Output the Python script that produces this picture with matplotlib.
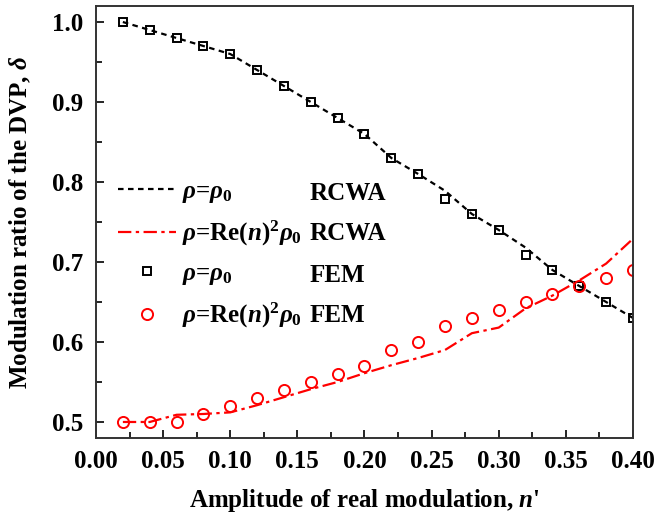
import numpy as np
import matplotlib
matplotlib.use('Agg')
import matplotlib.pyplot as plt
from matplotlib.ticker import MultipleLocator

plt.rcParams['font.family'] = 'Liberation Serif'
plt.rcParams['font.weight'] = 'bold'
plt.rcParams['axes.labelweight'] = 'bold'
plt.rcParams['mathtext.fontset'] = 'custom'
plt.rcParams['mathtext.rm'] = 'Liberation Serif:bold'
plt.rcParams['mathtext.it'] = 'Liberation Serif:italic:bold'
plt.rcParams['mathtext.bf'] = 'Liberation Serif:bold'

# amplitude of real modulation n'
n_amp = [0.02, 0.04, 0.06, 0.08, 0.10, 0.12, 0.14, 0.16, 0.18, 0.20,
         0.22, 0.24, 0.26, 0.28, 0.30, 0.32, 0.34, 0.36, 0.38, 0.40]

# rho = rho0
rcwa_rho0 = [1.00, 0.99, 0.98, 0.97, 0.96, 0.94, 0.92, 0.90, 0.88, 0.86,
             0.83, 0.81, 0.789, 0.76, 0.74, 0.718, 0.69, 0.67, 0.65, 0.63]
fem_rho0 = [1.00, 0.99, 0.98, 0.97, 0.96, 0.94, 0.92, 0.90, 0.88, 0.86,
            0.83, 0.81, 0.779, 0.76, 0.74, 0.709, 0.69, 0.67, 0.65, 0.63]

# rho = Re(n)^2 rho0
rcwa_ren = [0.50, 0.50, 0.509, 0.51, 0.512, 0.521, 0.531, 0.541, 0.55, 0.561,
            0.571, 0.58, 0.59, 0.611, 0.618, 0.642, 0.658, 0.677, 0.698, 0.729]
fem_ren = [0.50, 0.50, 0.50, 0.51, 0.52, 0.53, 0.54, 0.55, 0.56, 0.57,
           0.59, 0.60, 0.62, 0.63, 0.64, 0.65, 0.66, 0.67, 0.68, 0.69]

methods = ['RCWA', 'RCWA', 'FEM', 'FEM']

fig = plt.figure(figsize=(6.59, 5.14), dpi=100)
ax = fig.add_axes([0.1457, 0.1479, 0.9605 - 0.1457, 0.9883 - 0.1479])

lab1 = r'$\rho$=$\rho_0$'
lab2 = r'$\rho$=Re($n$)$^2\rho_0$'

h1, = ax.plot(n_amp, rcwa_rho0, color='black', linestyle=(0, (2.5, 2)), lw=1.6, label=lab1)
h2, = ax.plot(n_amp, rcwa_ren, color='red', linestyle=(0, (6, 2, 1.5, 2)), lw=1.6, label=lab2)
h3, = ax.plot(n_amp, fem_rho0, linestyle='', marker='s', ms=6, mfc='none', mec='black',
              mew=1.4, label=lab1)
h4, = ax.plot(n_amp, fem_ren, linestyle='', marker='o', ms=8, mfc='none', mec='red',
              mew=1.4, label=lab2)

ax.set_xlim(0, 0.40)
ax.set_ylim(0.48, 1.02)
ax.xaxis.set_major_locator(MultipleLocator(0.05))
ax.xaxis.set_minor_locator(MultipleLocator(0.025))
ax.yaxis.set_major_locator(MultipleLocator(0.1))
ax.yaxis.set_minor_locator(MultipleLocator(0.05))
ax.xaxis.set_major_formatter(plt.FormatStrFormatter('%.2f'))
ax.yaxis.set_major_formatter(plt.FormatStrFormatter('%.1f'))
ax.tick_params(which='both', direction='in', top=False, right=False, labelsize=18, width=1.2)
ax.tick_params(which='major', length=6, pad=9)
ax.tick_params(which='minor', length=4)
for sp in ax.spines.values():
    sp.set_linewidth(1.4)
    sp.set_color('#333333')

ax.set_xlabel(r"Amplitude of real modulation, $n$'", fontsize=18, labelpad=10)
ax.set_ylabel(r'Modulation ratio of the DVP, $\delta$', fontsize=18, labelpad=14)

leg = ax.legend(handles=[h1, h2, h3, h4], loc='upper left', bbox_to_anchor=(0.041, 0.598),
                frameon=False, fontsize=18, handlelength=2.3, handletextpad=0.25,
                labelspacing=0.56, borderpad=0, borderaxespad=0)

fig.canvas.draw()
inv = ax.transAxes.inverted()
for txt, m in zip(leg.get_texts(), methods):
    bb = txt.get_window_extent()
    yc = inv.transform((0, (bb.y0 + bb.y1) / 2))[1]
    ax.text(0.398, yc, m, transform=ax.transAxes, fontsize=18, va='center', ha='left')

fig.savefig('out.png', dpi=100)
